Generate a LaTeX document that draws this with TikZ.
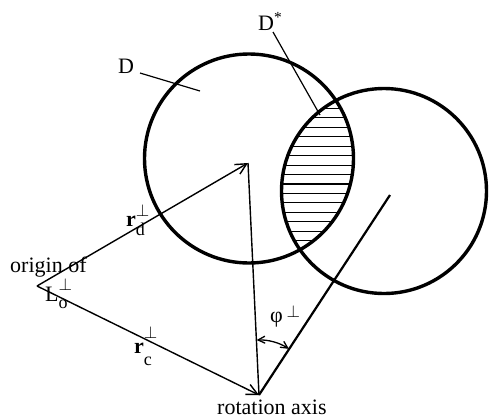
\documentclass[tikz,border=0pt]{standalone}
\usepackage{fontspec}
\setmainfont{Liberation Serif}
\usetikzlibrary{arrows.meta}
% label with lowered subscript and raised perp sign
\newcommand\perplab[4]{#1\rlap{\raisebox{#3}{\fontsize{18}{18}\selectfont #2}}\raisebox{#4}{\fontsize{18}{18}\selectfont$\perp$}}
\begin{document}
\begin{tikzpicture}[x=1pt,y=-1pt,
  disk/.style={line width=3.4pt},
  vec/.style={line width=1.4pt},
  vecarrow/.style={vec,-{Straight Barb[length=11pt,width=11pt,line width=1.4pt]}},
  anglearrow/.style={line width=1.3pt,{Straight Barb[length=7pt,width=7pt,line width=1.3pt]}-{Straight Barb[length=7pt,width=7pt,line width=1.3pt]}},
  axisline/.style={line width=2.2pt},
  leader/.style={line width=1.2pt},
  hatch/.style={line width=1.1pt},
  lab/.style={inner sep=0pt,font=\fontsize{22}{26}\selectfont}]
\useasboundingbox (0,0) rectangle (489,418);
% key points
\coordinate (C1) at (249,158.5);
\coordinate (C2) at (384,191);
\coordinate (dtip) at (248,163);
\coordinate (ctip) at (390,195);
\coordinate (O) at (37,286);
\coordinate (R) at (259,395);
% hatching of the lens D*
\begin{scope}
  \clip (C1) circle[radius=104.5];
  \clip (C2) circle[radius=102.5];
  \foreach \i in {0,...,14}{
    \draw[hatch] (260,{108.3+9.46*\i}) -- (370,{108.3+9.46*\i});
  }
\end{scope}
% disks
\draw[disk] (C1) circle[radius=104.5];
\draw[disk] (C2) circle[radius=102.5];
% vectors
\draw[vecarrow] (O) -- (dtip);
\draw[vecarrow] (O) -- (R);
\draw[vec] (dtip) -- (R);
\draw[axisline] (R) -- (ctip);
% angle
\draw[anglearrow] ([shift={(-57:55)}]R) arc[start angle=-57, end angle=-92.5, radius=55];
% labels
\node[lab,anchor=base west] (Dlab) at (118,73) {D};
\coordinate (Dl1) at (140,73);
\coordinate (Dl2) at (200,91);
\draw[leader] (Dl1) -- (Dl2);
\node[lab,anchor=base west] (Dslab) at (258,30) {D\textsuperscript{*}};
\coordinate (Ds1) at (273,32);
\coordinate (Ds2) at (320,115);
\draw[leader] (Ds1) -- (Ds2);
\node[lab,anchor=base west] (orig) at (10,272) {origin of};
\node[lab,anchor=base west] (Lo) at (45,301) {\perplab{L}{o}{-7pt}{11pt}};
\node[lab,anchor=base west] (rd) at (126,226) {\perplab{\textbf{r}}{d}{-9pt}{10pt}};
\node[lab,anchor=base west] (rc) at (134,353) {\perplab{\textbf{r}}{c}{-12pt}{15pt}};
\node[lab,anchor=base west] (phi) at (270,322) {φ\,\raisebox{5pt}{\fontsize{18}{18}\selectfont$\perp$}};
\node[lab,anchor=base west,text depth=0pt] (rot) at (217,414) {rotation axis};
\end{tikzpicture}
\end{document}
